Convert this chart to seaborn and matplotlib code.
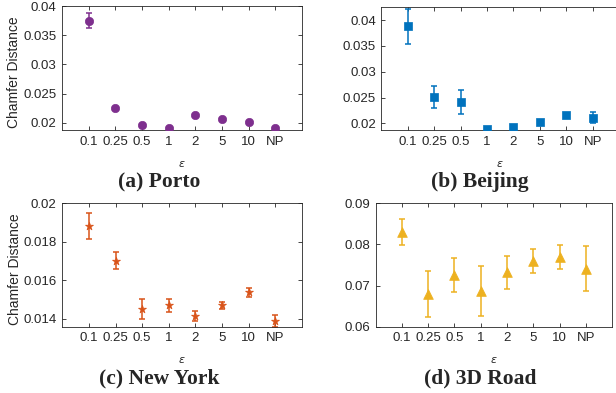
import numpy as np
import pandas as pd
import matplotlib
matplotlib.use('Agg')
import matplotlib.pyplot as plt
import seaborn as sns
from matplotlib.ticker import FuncFormatter

# 横轴类别
eps_labels = ['0.1', '0.25', '0.5', '1', '2', '5', '10', 'NP']

# 各数据集的均值与误差
porto_mean = [0.0375, 0.0225, 0.0197, 0.0191, 0.0214, 0.0206, 0.0201, 0.0191]
porto_err = [0.0013, 0.0002, 0.0002, 0.0002, 0.0002, 0.0002, 0.0002, 0.0002]

beijing_mean = [0.0388, 0.0251, 0.0241, 0.0189, 0.0193, 0.0202, 0.0217, 0.0211]
beijing_err = [0.0034, 0.0021, 0.0023, 0.0002, 0.0002, 0.0002, 0.0002, 0.0011]

ny_mean = [0.01882, 0.01701, 0.01450, 0.01470, 0.01413, 0.01471, 0.01539, 0.01392]
ny_err = [0.00066, 0.00044, 0.00052, 0.00035, 0.00026, 0.00019, 0.00024, 0.00031]

road_mean = [0.0830, 0.0680, 0.0726, 0.0687, 0.0732, 0.0760, 0.0770, 0.0741]
road_err = [0.0031, 0.0056, 0.0042, 0.0060, 0.0040, 0.0030, 0.0029, 0.0055]

titles = ['(a) Porto', '(b) Beijing', '(c) New York', '(d) 3D Road']

sns.set_theme(style='ticks')
plt.rcParams['font.family'] = ['Liberation Sans', 'DejaVu Sans']
plt.rcParams['axes.unicode_minus'] = False

fig = plt.figure(figsize=(6.16, 3.93), dpi=100)

panels = [
    # 数据, 误差, 颜色, 标记, 坐标轴位置, y范围, y刻度, 标记大小
    (porto_mean, porto_err, '#7E2F8E', 'o', [0.1006, 0.6692, 0.3896, 0.3155],
     (0.0188, 0.04), np.arange(0.02, 0.0401, 0.005), 6),
    (beijing_mean, beijing_err, '#0072BD', 's', [0.6193, 0.6692, 0.3857, 0.3122],
     (0.0187, 0.0425), np.arange(0.02, 0.0401, 0.005), 5.5),
    (ny_mean, ny_err, '#D95319', '*', [0.1011, 0.1687, 0.3890, 0.3140],
     (0.0136, 0.02), np.arange(0.014, 0.02001, 0.002), 6),
    (road_mean, road_err, '#EDB120', '^', [0.6096, 0.1687, 0.3843, 0.3140],
     (0.06, 0.09), np.arange(0.06, 0.0901, 0.01), 7),
]

title_pos = [(159, 182), (480, 182), (159.5, 378), (480, 378)]

for i, (mean, err, color, marker, pos, ylim, yticks, ms) in enumerate(panels):
    ax = fig.add_axes(pos)
    x = np.arange(1, len(eps_labels) + 1)
    df = pd.DataFrame({'x': x, 'y': mean})
    ax.errorbar(x, mean, yerr=err, fmt='none', ecolor=color, elinewidth=1.1,
                capsize=2, capthick=1.1, zorder=2)
    sns.scatterplot(data=df, x='x', y='y', ax=ax, color=color, marker=marker,
                    s=ms ** 2, edgecolor=color, linewidth=0.5, zorder=3, legend=False)
    ax.set_xlim(0, 9)
    ax.set_ylim(*ylim)
    ax.set_xticks(x)
    ax.set_xticklabels(eps_labels)
    ax.set_yticks(yticks)
    ax.yaxis.set_major_formatter(FuncFormatter(lambda v, p: f'{round(v, 4):g}'))
    # 右侧两幅图的右边框被裁掉，不画右侧刻度
    ax.tick_params(direction='in', length=3, width=0.6, top=True, right=(i in (0, 2)),
                   labelright=False, labeltop=False,
                   labelsize=9.5, colors='#262626', pad=4)
    for sp in ax.spines.values():
        sp.set_visible(True)
        sp.set_linewidth(0.6)
        sp.set_color('#262626')
    ax.set_xlabel(r'$\epsilon$', fontsize=8, color='#262626', labelpad=8)
    if i in (0, 2):
        ax.set_ylabel('Chamfer Distance', fontsize=10, color='#262626')
        ax.yaxis.set_label_coords(-0.17, 0.47)
    else:
        ax.set_ylabel('')
    tx, ty = title_pos[i]
    fig.text(tx / 616, 1 - ty / 393, titles[i], ha='center', va='center',
             fontsize=15.5, fontweight='bold', family=['Liberation Serif', 'DejaVu Serif'])

fig.savefig('out.png', dpi=100)
